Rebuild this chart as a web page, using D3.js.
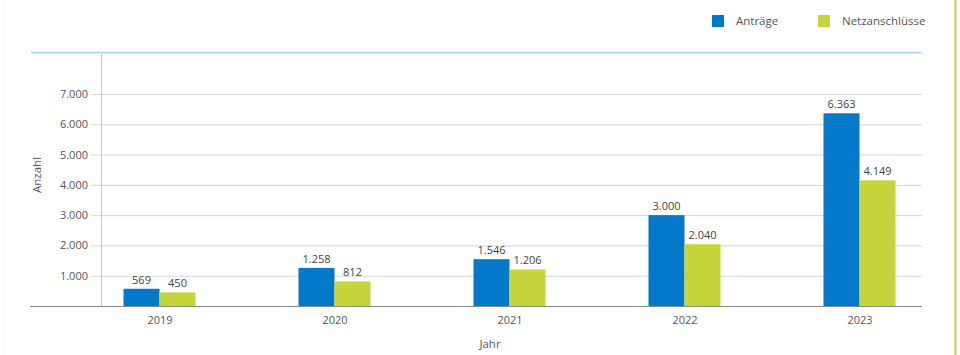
<!DOCTYPE html>
<html>
<head>
<meta charset="utf-8">
<script src="https://cdn.jsdelivr.net/npm/d3@7"></script>
<style>
  html, body { margin: 0; padding: 0; background: #fff; }
  svg { display: block; font-family: "Open Sans", "Noto Sans", sans-serif; }
</style>
</head>
<body>
<svg id="chart" width="960" height="355"></svg>
<script>
const years = ["2019", "2020", "2021", "2022", "2023"];
const antraege = [569, 1258, 1546, 3000, 6363];
const netzanschluesse = [450, 812, 1206, 2040, 4149];
const seriesNames = ["Anträge", "Netzanschlüsse"];
const seriesColors = ["#0579c9", "#c6d43b"];
const yTicks = [1000, 2000, 3000, 4000, 5000, 6000, 7000];

const svg = d3.select("#chart");
const fmt = v => d3.format(",")(v).replace(/,/g, ".");

const x = d3.scalePoint().domain(years).range([159.5, 859.5]);
const barW = 36;
const y = d3.scaleLinear().domain([0, 7000]).range([306, 94]);

// frame lines
svg.append("line").attr("x1", 3.5).attr("x2", 3.5).attr("y1", 0).attr("y2", 355)
  .attr("stroke", "#f2f2f2").attr("stroke-width", 1);
svg.append("line").attr("x1", 955.5).attr("x2", 955.5).attr("y1", 0).attr("y2", 355)
  .attr("stroke", "#c6d43b").attr("stroke-width", 2);

// top blue line
svg.append("line").attr("x1", 31).attr("x2", 922).attr("y1", 52.5).attr("y2", 52.5)
  .attr("stroke", "#a9d1ee").attr("stroke-width", 1.5);

// gridlines
const yAxis = d3.axisLeft(y).tickValues(yTicks).tickFormat(fmt).tickSize(-831).tickPadding(3);
const gy = svg.append("g").attr("transform", "translate(922,0)");
gy.call(d3.axisLeft(y).tickValues(yTicks).tickSize(831).tickFormat(""));
gy.select(".domain").remove();
gy.selectAll(".tick line").attr("stroke", "#d6d6d6").attr("stroke-width", 1);

// tick labels
const gl = svg.append("g").attr("transform", "translate(91,0)");
gl.call(d3.axisLeft(y).tickValues(yTicks).tickFormat(fmt).tickSize(0).tickPadding(3));
gl.select(".domain").remove();
gl.selectAll(".tick text").attr("fill", "#555").style("font-size", "11px")
  .style("font-family", "\"Open Sans\", \"Noto Sans\", sans-serif");

// vertical axis line
svg.append("line").attr("x1", 101.5).attr("x2", 101.5).attr("y1", 53).attr("y2", 306)
  .attr("stroke", "#c8c8c8").attr("stroke-width", 1);

// bars
const data = years.map((yr, i) => ({ year: yr, vals: [antraege[i], netzanschluesse[i]] }));
const groups = svg.append("g").selectAll("g").data(data).join("g");
groups.each(function(d) {
  const g = d3.select(this);
  d.vals.forEach((v, j) => {
    const bx = x(d.year) - barW + j * barW;
    g.append("rect").attr("x", bx).attr("y", y(v)).attr("width", barW)
      .attr("height", y(0) - y(v)).attr("fill", seriesColors[j]);
    g.append("text").attr("x", bx + barW / 2).attr("y", y(v) - 5)
      .attr("text-anchor", "middle").attr("fill", "#444").style("font-size", "11px")
      .text(fmt(v));
  });
});

// baseline
svg.append("line").attr("x1", 30).attr("x2", 922).attr("y1", 306.5).attr("y2", 306.5)
  .attr("stroke", "#8a8a8a").attr("stroke-width", 1.2);

// x axis labels
const gx = svg.append("g").attr("transform", "translate(0,306)");
gx.call(d3.axisBottom(x).tickSize(0).tickPadding(10));
gx.select(".domain").remove();
gx.selectAll(".tick text").attr("fill", "#555").style("font-size", "11px")
  .style("font-family", "\"Open Sans\", \"Noto Sans\", sans-serif");

// axis titles
svg.append("text").attr("x", 490).attr("y", 348).attr("text-anchor", "middle")
  .attr("fill", "#555").style("font-size", "11.5px").text("Jahr");
svg.append("text").attr("transform", "translate(41,175) rotate(-90)")
  .attr("text-anchor", "middle").attr("fill", "#555").style("font-size", "11.5px").text("Anzahl");

// legend
const legX = [712, 818];
seriesNames.forEach((n, i) => {
  svg.append("rect").attr("x", legX[i]).attr("y", 15).attr("width", 12).attr("height", 12)
    .attr("fill", seriesColors[i]);
  svg.append("text").attr("x", legX[i] + 24).attr("y", 25).attr("fill", "#555")
    .style("font-size", "11.5px").text(n);
});
</script>
</body>
</html>
